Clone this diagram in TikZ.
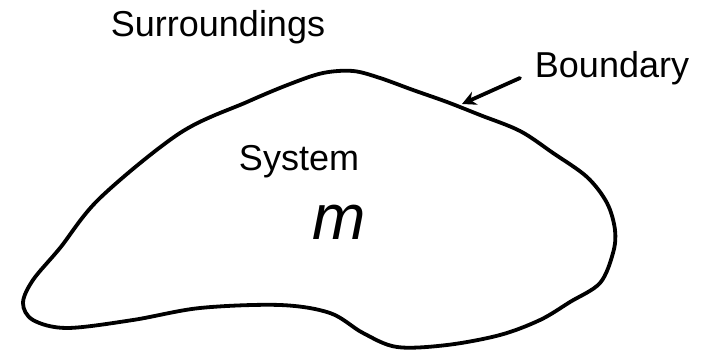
\documentclass[tikz,border=0pt]{standalone}
\usepackage{fontspec}
\setmainfont{Liberation Sans}
\usetikzlibrary{arrows.meta}
\tikzset{
  lbl/.style={font=\fontsize{36}{40}\selectfont, anchor=base, inner sep=0pt},
  blob/.style={line width=3.8pt, line cap=round, line join=round},
}
\begin{document}
\begin{tikzpicture}[x=1pt,y=-1pt]
\useasboundingbox (0,0) rectangle (703,352);
\draw[blob] plot[smooth cycle, tension=0.55] coordinates {
 (353,71) (380,78) (413,90) (447,102) (480,115) (520,131) (553,153)
 (587,177) (607,203) (615,230) (613,253) (600,283) (570,302) (540,320)
 (500,335) (447,345) (397,347) (363,333)
 (330,313) (280,305) (200,308) (133,320) (67,328) (33,320) (23,303)
 (33,280) (60,248) (100,198) (180,133) (247,102) (290,84) (323,73)};
\node[lbl] (surr) at (218,37) {Surroundings};
\node[lbl] (bound) at (612,78) {Boundary};
\node[lbl] (sys) at (299,171) {System};
\node[font=\fontsize{64}{70}\selectfont\itshape, anchor=base, inner sep=0pt] (mass) at (339,240) {m};
\coordinate (bstart) at (520,78);
\coordinate (btip) at (462,104);
\draw[line width=3.8pt, line cap=round, -{Stealth[length=14pt,width=14pt]}] (bstart) -- (btip);
\end{tikzpicture}
\end{document}
